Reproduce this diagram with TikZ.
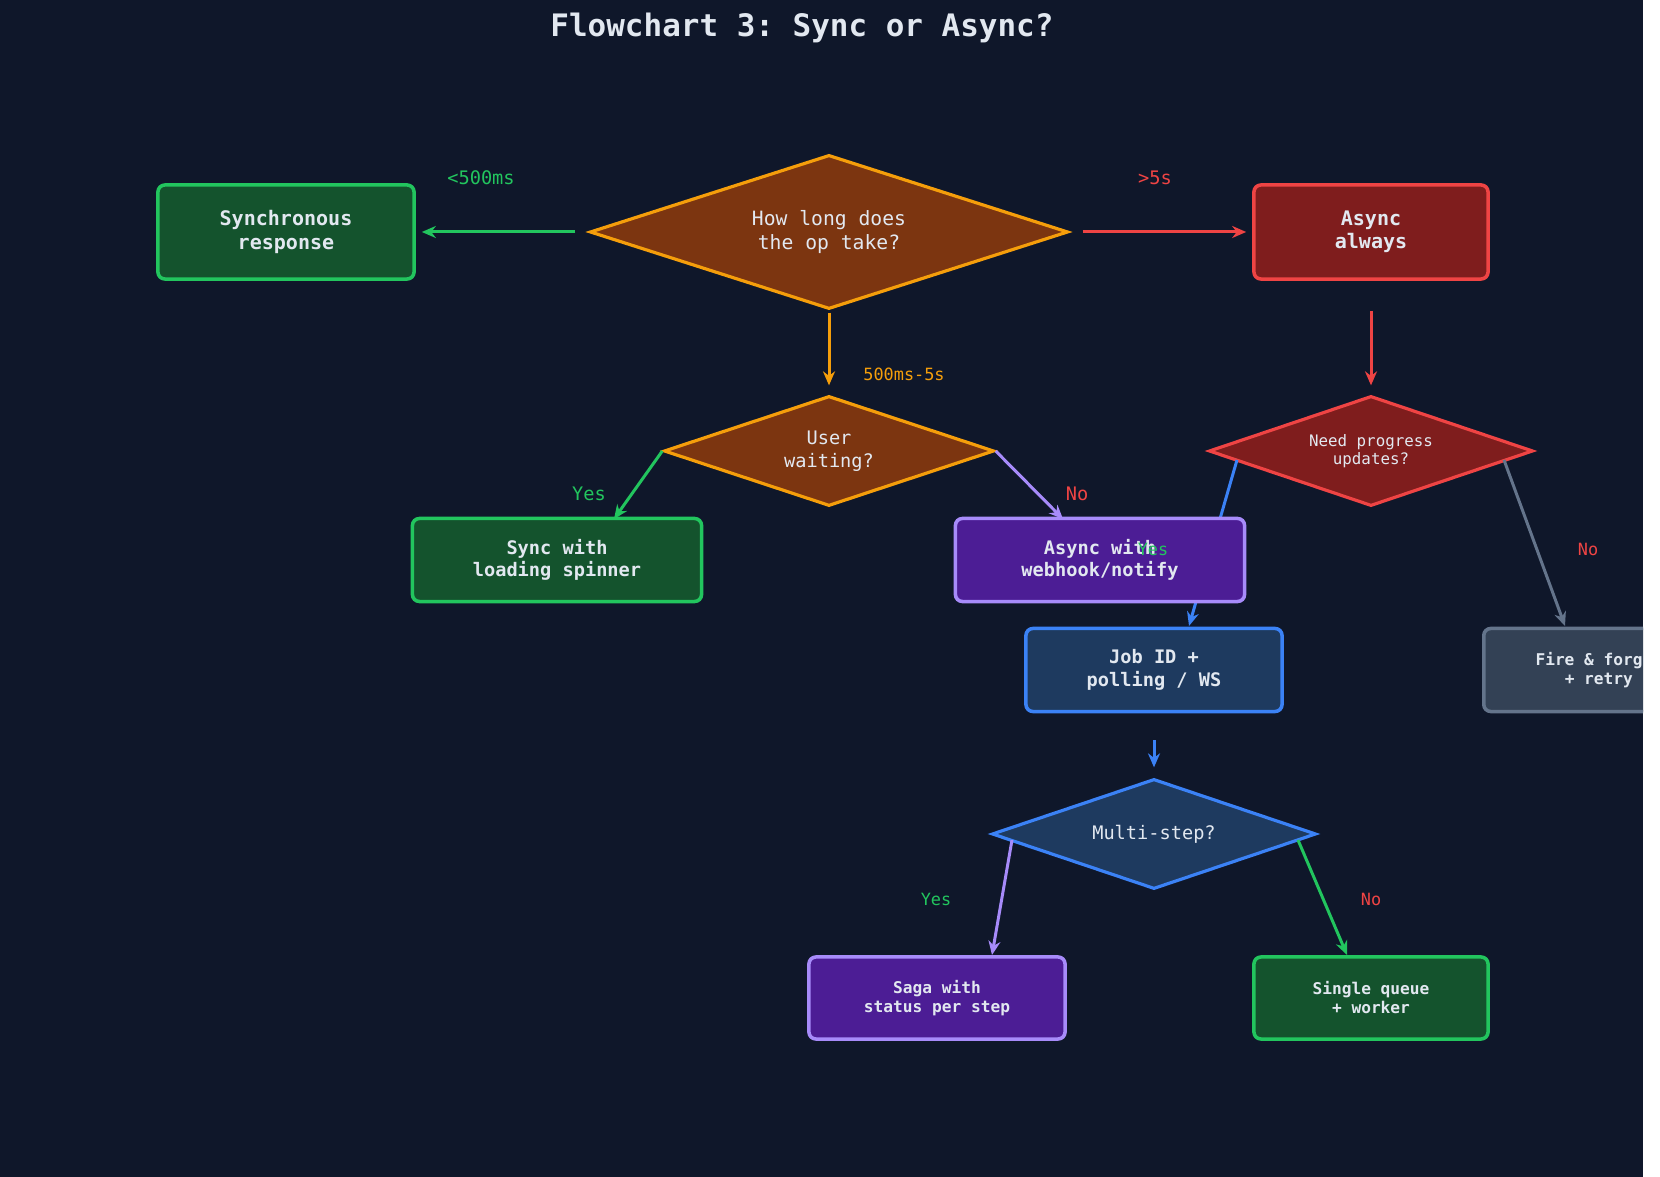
\documentclass[tikz,border=0pt]{standalone}
\usepackage{fontspec}
\setmonofont{DejaVu Sans Mono}
\usetikzlibrary{arrows.meta,shapes.geometric}
\definecolor{bgc}{HTML}{0F172A}
\definecolor{txt}{HTML}{E2E8F0}
\definecolor{grf}{HTML}{14532D}\definecolor{grs}{HTML}{22C55E}
\definecolor{rdf}{HTML}{7F1D1D}\definecolor{rds}{HTML}{EF4444}
\definecolor{orf}{HTML}{7C3510}\definecolor{ors}{HTML}{F59E0B}
\definecolor{puf}{HTML}{4C1D95}\definecolor{pus}{HTML}{A78BFA}
\definecolor{blf}{HTML}{1E3A5F}\definecolor{bls}{HTML}{3B82F6}
\definecolor{gyf}{HTML}{334155}\definecolor{gys}{HTML}{64748B}
\tikzset{
  box/.style={draw, line width=1pt, rounded corners=0.07cm, text=txt, align=center,
    font=\ttfamily\bfseries\fontsize{5.3}{6.4}\selectfont, inner sep=0pt},
  dia/.style={draw, diamond, line width=0.9pt, text=txt, align=center, inner sep=0pt,
    font=\ttfamily\fontsize{5.3}{6.4}\selectfont},
  arr/.style={-{Stealth[length=0.14cm,width=0.12cm]}, line width=0.85pt},
  lbl/.style={font=\ttfamily\fontsize{4.8}{5.5}\selectfont}
}
\begin{document}
\begin{tikzpicture}[x=0.01cm,y=-0.01cm]
  \useasboundingbox (0,0) rectangle (1660,1177);
  \fill[white] (0,0) rectangle (1660,1177);
  \fill[bgc] (0,0) rectangle (1643,1177);
  \node[text=txt, font=\ttfamily\bfseries\fontsize{8.8}{10}\selectfont] (title) at (802,28) {Flowchart 3: Sync or Async?};

  % decisions
  \node[dia, fill=orf, draw=ors, aspect=3.1, minimum width=4.78cm, minimum height=1.54cm,
    font=\ttfamily\fontsize{5.6}{6.6}\selectfont] (long) at (829,232) {How long does\\the op take?};
  \node[dia, fill=orf, draw=ors, aspect=3, minimum width=3.3cm, minimum height=1.1cm] (wait) at (829,451) {User\\waiting?};
  \node[dia, fill=rdf, draw=rds, aspect=2.95, minimum width=3.24cm, minimum height=1.1cm,
    font=\ttfamily\fontsize{4.5}{5.3}\selectfont] (prog) at (1371,451) {Need progress\\updates?};
  \node[dia, fill=blf, draw=bls, aspect=2.95, minimum width=3.24cm, minimum height=1.1cm] (multi) at (1154,834) {Multi-step?};

  % connectors under boxes
  \coordinate (pY) at (1237,460);
  \coordinate (pN) at (1504,460);
  \draw[arr, bls] (pY) -- (1189,626);
  \draw[arr, gys] (pN) -- (1565,626);

  % outcomes
  \node[box, fill=grf, draw=grs, minimum width=2.56cm, minimum height=0.94cm,
    font=\ttfamily\bfseries\fontsize{5.7}{6.7}\selectfont] (sync) at (286,232) {Synchronous\\response};
  \node[box, fill=rdf, draw=rds, minimum width=2.34cm, minimum height=0.94cm,
    font=\ttfamily\bfseries\fontsize{5.7}{6.7}\selectfont] (async) at (1371,232) {Async\\always};
  \node[box, fill=grf, draw=grs, minimum width=2.89cm, minimum height=0.83cm] (spin) at (557,560) {Sync with\\loading spinner};
  \node[box, fill=puf, draw=pus, minimum width=2.89cm, minimum height=0.83cm] (hook) at (1100,560) {Async with\\webhook/notify};
  \node[box, fill=blf, draw=bls, minimum width=2.56cm, minimum height=0.83cm] (job) at (1154,670) {Job ID +\\polling / WS};
  \begin{scope}
    \clip (0,0) rectangle (1643,1177);
    \node[box, fill=gyf, draw=gys, minimum width=2.3cm, minimum height=0.83cm, anchor=west,
      font=\ttfamily\bfseries\fontsize{4.6}{5.4}\selectfont] (fire) at (1482,670) {Fire \& forget\\+ retry};
  \end{scope}
  \node[box, fill=puf, draw=pus, minimum width=2.56cm, minimum height=0.82cm,
    font=\ttfamily\bfseries\fontsize{4.6}{5.4}\selectfont] (saga) at (937,998) {Saga with\\status per step};
  \node[box, fill=grf, draw=grs, minimum width=2.34cm, minimum height=0.82cm,
    font=\ttfamily\bfseries\fontsize{4.6}{5.4}\selectfont] (queue) at (1371,998) {Single queue\\+ worker};

  % connectors
  \draw[arr, grs, shorten <=0.13cm, shorten >=0.06cm] (long.west) -- (sync.east);
  \draw[arr, rds, shorten <=0.13cm, shorten >=0.06cm] (long.east) -- (async.west);
  \draw[arr, ors, shorten <=0.02cm, shorten >=0.09cm] (long.south) -- (wait.north);
  \draw[arr, rds, shorten <=0.3cm, shorten >=0.09cm] (async.south) -- (prog.north);
  \draw[arr, grs] (wait.west) -- (614,519);
  \draw[arr, pus] (wait.east) -- (1063,519);
  \draw[arr, bls, shorten <=0.27cm, shorten >=0.1cm] (job.south) -- (multi.north);
  \draw[arr, pus] (1012,840) -- (992,955);
  \draw[arr, grs] (1298,840) -- (1347,955);

  % labels
  \node[lbl, text=grs, font=\ttfamily\fontsize{5.3}{6}\selectfont] (l500) at (481,178) {<500ms};
  \node[lbl, text=rds, font=\ttfamily\fontsize{5.3}{6}\selectfont] (l5s) at (1155,178) {>5s};
  \node[lbl, text=ors] (lmid) at (904,374) {500ms-5s};
  \node[lbl, text=grs, font=\ttfamily\fontsize{5.3}{6}\selectfont] (lwy) at (589,494) {Yes};
  \node[lbl, text=rds, font=\ttfamily\fontsize{5.3}{6}\selectfont] (lwn) at (1077,494) {No};
  \node[lbl, text=grs] (lpy) at (1153,549) {Yes};
  \node[lbl, text=rds] (lpn) at (1588,549) {No};
  \node[lbl, text=grs] (lmy) at (936,899) {Yes};
  \node[lbl, text=rds] (lmn) at (1371,899) {No};
\end{tikzpicture}
\end{document}
